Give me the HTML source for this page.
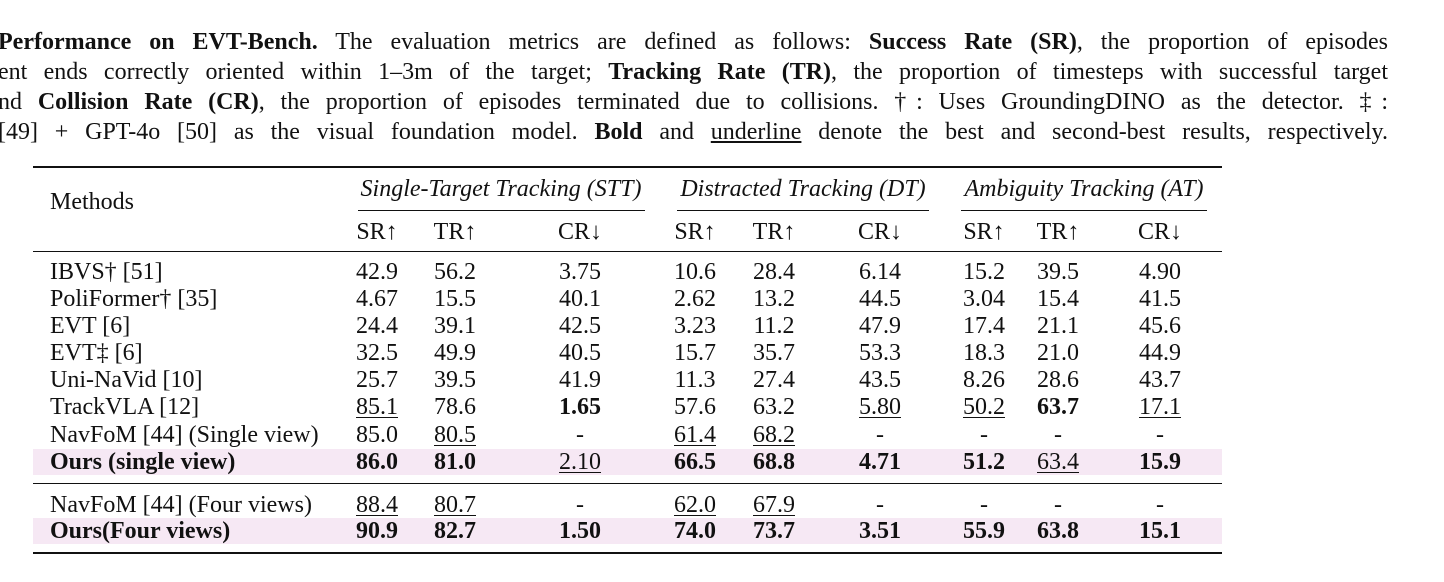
<!DOCTYPE html>
<html><head><meta charset="utf-8"><style>
body{margin:0;width:1444px;height:582px;background:#fff;overflow:hidden;font-family:"Liberation Serif",serif;color:#111;position:relative}
.cap{position:absolute;left:-2px;width:1390px;font-size:24px;line-height:30px;text-align:justify;text-align-last:justify;white-space:nowrap;overflow:hidden}
.r{position:absolute;background:#111;left:33px;width:1189px}
.t{position:absolute;font-size:24px;line-height:26px;white-space:nowrap}
.c{transform:translateX(-50%)}
.u{text-decoration:underline;text-underline-offset:3px;text-decoration-thickness:1px}
.b{font-weight:bold}
.i{font-style:italic}
.bg{position:absolute;left:33px;width:1189px;background:#f6e8f4}
</style></head><body>
<div class="cap" style="top:27px"><b>Performance on EVT-Bench.</b> The evaluation metrics are defined as follows: <b>Success Rate (SR)</b>, the proportion of episodes</div>
<div class="cap" style="top:57px">ent ends correctly oriented within 1–3m of the target; <b>Tracking Rate (TR)</b>, the proportion of timesteps with successful target</div>
<div class="cap" style="top:87px">nd <b>Collision Rate (CR)</b>, the proportion of episodes terminated due to collisions. †: Uses GroundingDINO as the detector. ‡:</div>
<div class="cap" style="top:117px">[49] + GPT-4o [50] as the visual foundation model. <b>Bold</b> and <u>underline</u> denote the best and second-best results, respectively.</div>

<div class="bg" style="top:449px;height:26px"></div>
<div class="bg" style="top:518px;height:26px"></div>
<div class="r" style="top:166px;height:2px"></div>
<div class="r" style="top:251px;height:1px"></div>
<div class="r" style="top:483px;height:1px"></div>
<div class="r" style="top:552px;height:2px"></div>
<div class="r" style="top:210px;height:1px;left:358px;width:287px"></div>
<div class="r" style="top:210px;height:1px;left:677px;width:252px"></div>
<div class="r" style="top:210px;height:1px;left:961px;width:246px"></div>

<div class="t" style="left:50px;top:189px">Methods</div>
<div class="t i c" style="left:501px;top:176px">Single-Target Tracking (STT)</div>
<div class="t i c" style="left:803px;top:176px">Distracted Tracking (DT)</div>
<div class="t i c" style="left:1084px;top:176px">Ambiguity Tracking (AT)</div>

<script>
const colCenters=[377,455,580,695,774,880,984,1058,1160];
const subHeads=["SR↑","TR↑","CR↓","SR↑","TR↑","CR↓","SR↑","TR↑","CR↓"];
const methods=["IBVS† [51]","PoliFormer† [35]","EVT [6]","EVT‡ [6]","Uni-NaVid [10]","TrackVLA [12]","NavFoM [44] (Single view)","Ours (single view)","NavFoM [44] (Four views)","Ours(Four views)"];
const values=[
["42.9","56.2","3.75","10.6","28.4","6.14","15.2","39.5","4.90"],
["4.67","15.5","40.1","2.62","13.2","44.5","3.04","15.4","41.5"],
["24.4","39.1","42.5","3.23","11.2","47.9","17.4","21.1","45.6"],
["32.5","49.9","40.5","15.7","35.7","53.3","18.3","21.0","44.9"],
["25.7","39.5","41.9","11.3","27.4","43.5","8.26","28.6","43.7"],
["85.1","78.6","1.65","57.6","63.2","5.80","50.2","63.7","17.1"],
["85.0","80.5","-","61.4","68.2","-","-","-","-"],
["86.0","81.0","2.10","66.5","68.8","4.71","51.2","63.4","15.9"],
["88.4","80.7","-","62.0","67.9","-","-","-","-"],
["90.9","82.7","1.50","74.0","73.7","3.51","55.9","63.8","15.1"]];
const styles=[
".........",".........",".........",".........",".........",
"u.b..uubu",".u.uu....","bbubbbbub",
"uu.uu....","bbbbbbbbb"];
const rowTops=[259,286,313,340,367,394,422,449,492,518];
const boldRows=[7,9];
subHeads.forEach((h,i)=>{const d=document.createElement('div');d.className='t c';d.style.left=colCenters[i]+'px';d.style.top='219px';d.textContent=h;


document.body.appendChild(d);});
methods.forEach((m,r)=>{const d=document.createElement('div');d.className='t'+(boldRows.includes(r)?' b':'');d.style.left='50px';d.style.top=rowTops[r]+'px';d.textContent=m;


document.body.appendChild(d);
values[r].forEach((v,c)=>{const e=document.createElement('div');const s=styles[r][c];e.className='t c'+(s==='b'?' b':s==='u'?' u':'');e.style.left=colCenters[c]+'px';e.style.top=rowTops[r]+'px';e.textContent=v;


document.body.appendChild(e);});});
</script>
</body></html>
